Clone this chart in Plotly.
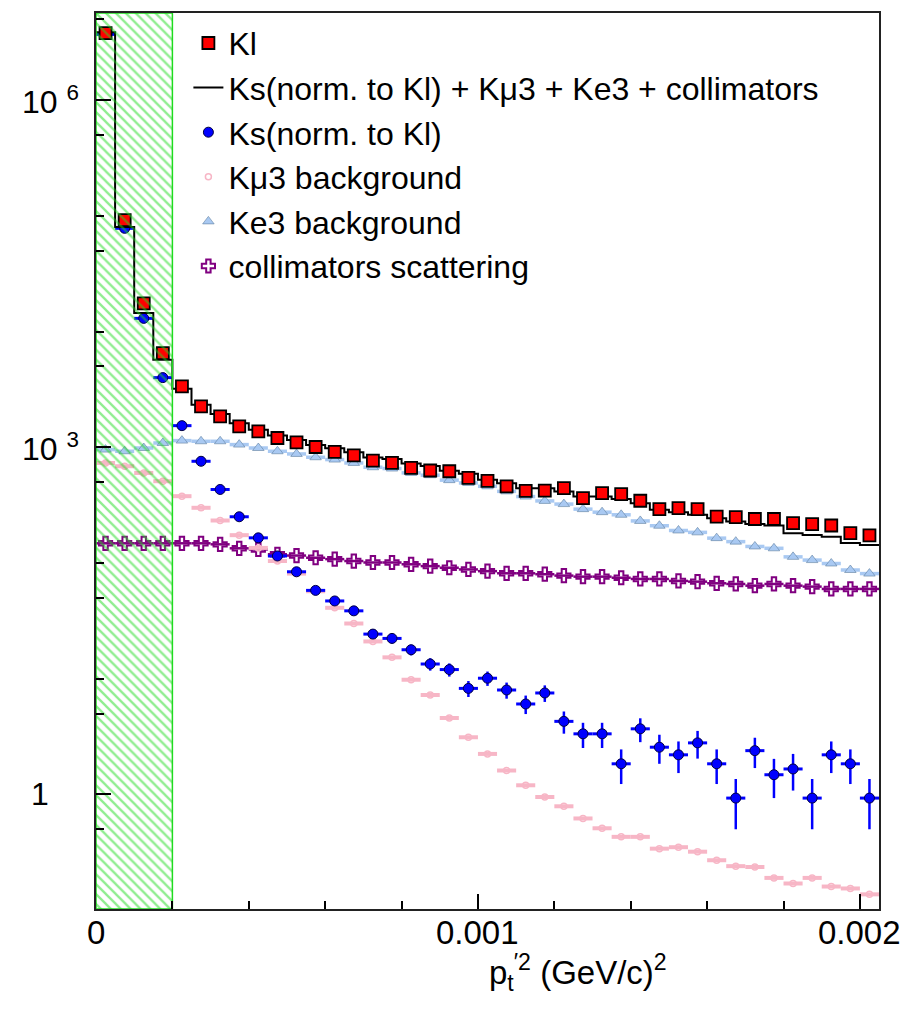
import numpy as np
import plotly.graph_objects as go

# ---------------- data ----------------
bin_width = 0.00005
x_range = [0.0, 0.00205]
bin_edges = np.linspace(x_range[0], x_range[1], 42)
bin_centers = 0.5 * (bin_edges[:-1] + bin_edges[1:])

kl = [3.8e6, 9.2e4, 1.75e4, 6500, 3357, 2255, 1849, 1517, 1374, 1203, 1104, 1006, 912, 853,
      768, 732, 663, 630, 621, 544, 512, 460, 420, 423, 443, 363, 401, 393, 345, 292, 298,
      292, 252, 249, 240, 240, 221, 217, 211, 181, 173]

total = [3.86e6, 8.0e4, 1.45e4, 5700, 3206, 2332, 1937, 1614, 1417, 1262, 1157, 1046, 979, 905,
         818, 793, 726, 688, 628, 591, 523, 489, 443, 443, 414, 375, 375, 358, 329, 288, 275,
         261, 244, 228, 217, 211, 181, 175, 169, 149, 143]

ks = [3.7e6, 7.8e4, 1.3e4, 4000, 1538, 757, 432, 251, 165, 115, 84, 58, 47, 38.6, 24.3, 22.3,
      17.8, 13.4, 12.0, 8.25, 10.1, 7.99, 6.05, 7.53, 4.28, 3.34, 3.34, 1.84, 3.69, 2.56, 2.20,
      2.79, 1.84, 0.93, 2.39, 1.48, 1.66, 0.93, 2.20, 1.84, 0.93]
ks_err = [870, 125, 51, 28, 17.6, 12.4, 9.4, 7.1, 5.8, 4.8, 4.1, 3.4, 3.1, 2.8, 2.2, 2.1, 1.9,
          1.65, 1.56, 1.3, 1.43, 1.27, 1.1, 1.23, 0.93, 0.82, 0.82, 0.61, 0.86, 0.72, 0.67,
          0.75, 0.61, 0.43, 0.70, 0.55, 0.58, 0.43, 0.67, 0.61, 0.43]

kmu3 = [732, 686, 600, 509, 378, 300, 233, 174, 135, 104, 81, 57, 41, 30, 21, 15.3, 9.8, 7.23,
        4.58, 3.12, 2.24, 1.61, 1.20, 0.95, 0.79, 0.62, 0.51, 0.43, 0.43, 0.34, 0.35, 0.32,
        0.27, 0.24, 0.236, 0.19, 0.17, 0.19, 0.16, 0.154, 0.137]

ke3 = [955, 924, 986, 1089, 1142, 1127, 1127, 1055, 986, 924, 876, 820, 783, 732, 672, 655,
       601, 574, 520, 492, 460, 416, 375, 344, 323, 292, 275, 261, 231, 210, 191, 184, 164,
       153, 139, 134, 113, 106, 99, 87, 81]

collim = [148, 148, 148, 148, 148, 148, 145, 134, 131, 119, 116, 111, 108, 104, 101, 101, 97.5,
          94, 91, 88, 85, 81.5, 81.5, 80, 77.8, 76.2, 76.2, 74.6, 72.8, 72.8, 70, 69, 66.8,
          65.9, 63.7, 65.9, 63.7, 62.5, 59.7, 59.7, 59.7]

cut_x = 0.0002                      # excluded (hatched) region upper edge
y_range_log = [-0.99, 6.753]

y_major_ticks = [1, 1e3, 1e6]
y_major_text = ["1", "10 <sup>3</sup>", "10 <sup>6</sup>"]
y_minor_ticks = [0.5, 5, 10, 50, 100, 500, 5e3, 1e4, 5e4, 1e5, 5e5, 5e6]
x_major_ticks = [0.0, 0.001, 0.002]
x_major_text = ["0", "0.001", "0.002"]

# ---------------- styles ----------------
FONT = "Liberation Sans, Arial, Helvetica, sans-serif"
RED = "#ff0000"
BLUE = "#0000ff"
PINK = "#f7b6c6"
LBLUE = "#a9c9f2"
PURPLE = "#800080"
GREEN = "#1fdc1f"

fig = go.Figure()

half = bin_width / 2

fig.add_trace(go.Scatter(
    x=bin_centers, y=ke3, mode="markers", name="Ke3 background",
    marker=dict(symbol="triangle-up", size=10, color=LBLUE, line=dict(color="#6080a0", width=0.6)),
    error_x=dict(type="constant", value=half, thickness=3.5, width=0, color=LBLUE),
    legendrank=5))

fig.add_trace(go.Scatter(
    x=bin_centers, y=collim, mode="markers", name="collimators scattering",
    marker=dict(symbol="cross-open", size=11, color=PURPLE, line=dict(color=PURPLE, width=2)),
    error_x=dict(type="constant", value=half, thickness=2.5, width=0, color=PURPLE),
    legendrank=6))

fig.add_trace(go.Scatter(
    x=bin_centers, y=kmu3, mode="markers", name="K\u03bc3 background",
    marker=dict(symbol="circle-open", size=6, color=PINK, line=dict(color=PINK, width=1.5)),
    error_x=dict(type="constant", value=half, thickness=4, width=0, color=PINK),
    legendrank=4))

fig.add_trace(go.Scatter(
    x=bin_centers, y=ks, mode="markers", name="Ks(norm. to Kl)",
    marker=dict(symbol="circle", size=10, color=BLUE, line=dict(color="#000040", width=1)),
    error_x=dict(type="constant", value=half, thickness=3, width=0, color=BLUE),
    error_y=dict(type="data", array=ks_err, thickness=2.5, width=0, color=BLUE),
    legendrank=3))

fig.add_trace(go.Scatter(
    x=bin_edges, y=list(total) + [total[-1]], mode="lines", line_shape="hv",
    name="Ks(norm. to Kl) + K\u03bc3 + Ke3 + collimators",
    line=dict(color="black", width=2),
    legendrank=2))

fig.add_trace(go.Scatter(
    x=bin_centers, y=kl, mode="markers", name="Kl",
    marker=dict(symbol="square", size=12, color=RED, line=dict(color="black", width=1.8)),
    legendrank=1))

# hatched excluded region (drawn on top)
y_lo, y_hi = 10 ** y_range_log[0], 10 ** y_range_log[1]
fig.add_trace(go.Scatter(
    x=[x_range[0], cut_x, cut_x, x_range[0], x_range[0]],
    y=[y_lo, y_lo, y_hi, y_hi, y_lo],
    mode="lines", fill="toself", fillcolor="rgba(0,0,0,0)",
    fillpattern=dict(shape="\\", fgcolor=GREEN, bgcolor="rgba(0,0,0,0)", size=7, solidity=0.33),
    line=dict(color=GREEN, width=1.5), showlegend=False, hoverinfo="skip"))

# tick labels as annotations (ROOT-style placement)
annotations = []
for v, t in zip(y_major_ticks, y_major_text):
    annotations.append(dict(
        x=-0.019 if v != 1 else -0.058, xref="paper", xanchor="right",
        y=np.log10(v), yref="y", yanchor="middle", showarrow=False,
        text=t, font=dict(family=FONT, size=32, color="black")))
for v, t in zip(x_major_ticks, x_major_text):
    annotations.append(dict(
        x=v, xref="x", xanchor="center", y=-0.026, yref="paper", yanchor="middle",
        showarrow=False, text=t, font=dict(family=FONT, size=33, color="black")))

annotations.append(dict(
    x=0.6156, xref="paper", xanchor="center", y=-0.071, yref="paper", yanchor="middle",
    showarrow=False, text="p<sub>t</sub><sup>\u20322</sup> (GeV/c)<sup>2</sup>",
    font=dict(family=FONT, size=33, color="black")))

fig.update_layout(
    width=915, height=1011,
    margin=dict(l=96, r=36, t=11, b=102),
    paper_bgcolor="white", plot_bgcolor="white",
    font=dict(family=FONT, size=32, color="black"),
    showlegend=True,
    legend=dict(x=0.118, y=0.997, xanchor="left", yanchor="top",
                bgcolor="rgba(0,0,0,0)", borderwidth=0,
                font=dict(family=FONT, size=32, color="black"),
                tracegroupgap=0, traceorder="normal"),
    annotations=annotations,
)

fig.update_xaxes(
    range=x_range, showgrid=False, zeroline=False,
    showline=True, linecolor="#222", linewidth=2, mirror=True,
    tickmode="array", tickvals=x_major_ticks, ticktext=["", "", ""],
    ticks="inside", ticklen=15, tickwidth=1.5, tickcolor="black",
    minor=dict(tickmode="linear", tick0=0, dtick=0.0002, ticks="inside", ticklen=8,
               tickwidth=1.5, tickcolor="black", showgrid=False),
)

fig.update_yaxes(
    type="log", range=y_range_log, showgrid=False, zeroline=False,
    showline=True, linecolor="#222", linewidth=2, mirror=True,
    tickmode="array", tickvals=y_major_ticks, ticktext=["", "", ""],
    ticks="inside", ticklen=15, tickwidth=1.5, tickcolor="black",
    minor=dict(tickmode="array", tickvals=y_minor_ticks, ticks="inside", ticklen=8,
               tickwidth=1.5, tickcolor="black", showgrid=False),
)

fig.write_html("out.html")
